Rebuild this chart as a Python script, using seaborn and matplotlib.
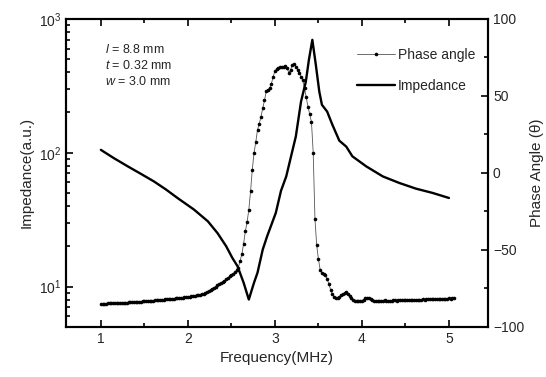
import numpy as np
import pandas as pd
import matplotlib
matplotlib.use("Agg")
import matplotlib.pyplot as plt
import seaborn as sns
from matplotlib.ticker import MultipleLocator, FixedLocator, NullFormatter
from matplotlib.lines import Line2D

# impedance (left, log axis)
imp_freq = [1.00, 1.15, 1.31, 1.46, 1.61, 1.75, 1.88, 2.07, 2.23, 2.34, 2.44,
            2.51, 2.57, 2.64, 2.70, 2.76, 2.80, 2.86, 2.91, 3.01, 3.07, 3.13,
            3.24, 3.30, 3.355, 3.39, 3.43, 3.47, 3.51, 3.54, 3.60, 3.66, 3.74,
            3.82, 3.89, 4.05, 4.24, 4.43, 4.62, 4.81, 5.00]
imp_val = [105, 91, 79, 69.5, 61, 53, 45.9, 37.6, 30.7, 25.1, 20.0,
           16.4, 14.2, 10.7, 8.0, 10.7, 12.7, 18.9, 23.7, 35.5, 52.0, 66.5,
           132, 241, 339, 492, 697, 454, 286, 228, 203, 162, 123,
           111, 94, 79, 66.5, 59.4, 53.9, 50.1, 45.9]

# phase angle (right axis), sweep from 1.00 MHz in 0.02 MHz steps
phase_start, phase_step = 1.00, 0.02
phase_deg = [
    -85.0, -85.0, -84.9, -84.9, -84.8, -84.8, -84.7, -84.7, -84.6, -84.6,
    -84.5, -84.4, -84.4, -84.3, -84.3, -84.2, -84.1, -84.1, -84.0, -83.9,
    -83.8, -83.8, -83.7, -83.6, -83.5, -83.4, -83.3, -83.2, -83.2, -83.1,
    -82.9, -82.8, -82.7, -82.6, -82.6, -82.4, -82.3, -82.2, -82.1, -82.0,
    -81.8, -81.7, -81.6, -81.5, -81.4, -81.3, -81.2, -81.0, -80.9, -80.8,
    -80.7, -80.5, -80.2, -80.0, -79.7, -79.5, -79.2, -79.0, -78.7, -78.4,
    -78.0, -77.4, -76.8, -76.0, -75.2, -74.5, -73.8, -73.0, -72.3, -71.6,
    -71.0, -70.2, -69.2, -68.2, -67.3, -66.5, -65.5, -64.5, -63.4, -61.5,
    -57.0, -53.0, -46.0, -38.0, -32.0, -24.0, -12.0, 2.0, 13.0, 20.0,
    28.0, 32.0, 36.5, 42.0, 47.0, 53.0, 54.0, 55.0, 58.0, 62.5,
    66.0, 67.5, 68.0, 68.5, 69.0, 69.0, 69.5, 68.0, 65.0, 67.0,
    70.0, 71.0, 69.0, 67.0, 65.0, 62.5, 60.0, 55.0, 49.0, 43.0,
    38.0, 33.0, 13.0, -30.0, -47.0, -56.0, -63.0, -65.0, -66.0, -66.5,
    -69.0, -72.0, -76.0, -78.5, -80.5, -81.5, -81.5, -80.5, -79.5, -78.5,
    -78.0, -77.5, -78.5, -80.0, -81.5, -82.5, -83.0, -83.5, -83.5, -83.3,
    -83.0, -82.3, -81.5, -81.0, -81.2, -82.0, -82.8, -83.2, -83.3, -83.2,
    -83.3, -83.2, -83.0, -82.8, -82.9, -83.0, -83.1, -82.9, -82.7, -82.8,
    -82.9, -82.8, -82.6, -82.7, -82.8, -82.6, -82.5, -82.6, -82.7, -82.5,
    -82.4, -82.5, -82.4, -82.3, -82.4, -82.2, -82.3, -82.2, -82.1, -82.2,
    -82.0, -82.1, -81.9, -81.9, -81.8, -81.9, -81.7, -81.8, -81.6, -81.7,
    -81.5, -81.6, -81.5, -81.4,
]
phase_freq = np.round(phase_start + phase_step * np.arange(len(phase_deg)), 2)

sample_dims = ["$l$ = 8.8 mm", "$t$ = 0.32 mm", "$w$ = 3.0 mm"]

imp_df = pd.DataFrame({"freq": imp_freq, "imp": imp_val})
phase_df = pd.DataFrame({"freq": phase_freq, "phase": phase_deg})

sns.set_theme(style="ticks")
plt.rcParams["font.family"] = ["Liberation Sans", "DejaVu Sans"]
plt.rcParams["mathtext.fontset"] = "custom"
plt.rcParams["mathtext.rm"] = "Liberation Sans"
plt.rcParams["mathtext.it"] = "Liberation Sans:italic"
plt.rcParams["xtick.direction"] = "in"
plt.rcParams["ytick.direction"] = "in"

fig, ax = plt.subplots(figsize=(5.46, 3.77), dpi=100)
fig.subplots_adjust(left=0.121, right=0.894, bottom=0.133, top=0.95)

sns.lineplot(data=imp_df, x="freq", y="imp", ax=ax, color="black", lw=1.7)
ax.set_yscale("log")
ax.set_ylim(5, 1000)
ax.set_xlim(0.6, 5.45)
ax.set_xlabel("Frequency(MHz)", fontsize=11)
ax.set_ylabel("Impedance(a.u.)", fontsize=11)

ax2 = ax.twinx()
sns.lineplot(data=phase_df, x="freq", y="phase", ax=ax2, color="#555555",
             lw=0.6, marker="o", markersize=2.6, markerfacecolor="black",
             markeredgecolor="black", markeredgewidth=0)
ax2.set_ylim(-100, 100)
ax2.set_ylabel("Phase Angle (θ)", fontsize=11)

# impedance axes drawn above the twin
ax.set_zorder(ax2.get_zorder() + 1)
ax.patch.set_visible(False)

for a in (ax, ax2):
    for s in a.spines.values():
        s.set_linewidth(1.5)
        s.set_color("black")

for i, txt in enumerate(sample_dims):
    ax.text(0.093, 0.9 - i * 0.052, txt, transform=ax.transAxes,
            fontsize=9, va="center", ha="left")

handles = [
    Line2D([], [], color="#555555", lw=0.6, marker="o", markersize=2.6,
           markerfacecolor="black", markeredgewidth=0),
    Line2D([], [], color="black", lw=1.7),
]
ax.legend(handles, ["Phase angle", "Impedance"], loc="upper right",
          bbox_to_anchor=(1.0, 0.945), frameon=False, fontsize=10,
          handlelength=2.8, handletextpad=0.2, labelspacing=1.2, numpoints=1)

log_minor = [m * 10.0 ** d for d in range(0, 3) for m in range(2, 10)]
ax.yaxis.set_minor_locator(FixedLocator(log_minor))
ax.yaxis.set_minor_formatter(NullFormatter())
ax.xaxis.set_major_locator(MultipleLocator(1))
ax.xaxis.set_minor_locator(MultipleLocator(0.5))
ax2.yaxis.set_major_locator(MultipleLocator(50))
ax2.yaxis.set_minor_locator(MultipleLocator(25))

ax.tick_params(axis="y", which="both", left=True, right=False,
               direction="in", labelsize=10, width=1.2, color="black")
ax.tick_params(axis="x", which="both", bottom=True, top=True,
               direction="in", labelsize=10, width=1.2, color="black")
ax.tick_params(which="major", length=5)
ax.tick_params(which="minor", length=3)
ax2.tick_params(axis="y", which="both", direction="in", labelsize=10,
                width=1.2, color="black")
ax2.tick_params(which="major", length=5)
ax2.tick_params(which="minor", length=3)

# make sure the left/top/bottom tick marks of the impedance axes show
fig.canvas.draw()
for axis in (ax.xaxis, ax.yaxis):
    for tk, size in ([(t, 5) for t in axis.get_major_ticks()]
                     + [(t, 3) for t in axis.get_minor_ticks()]):
        for ln in (tk.tick1line, tk.tick2line):
            ln.set_color("black")
            ln.set_markeredgewidth(1.2)
            ln.set_markersize(size)
            ln.set_zorder(3)
        tk.tick1line.set_visible(True)
        tk.tick2line.set_visible(axis is ax.xaxis)

fig.savefig("out.png", dpi=100)
